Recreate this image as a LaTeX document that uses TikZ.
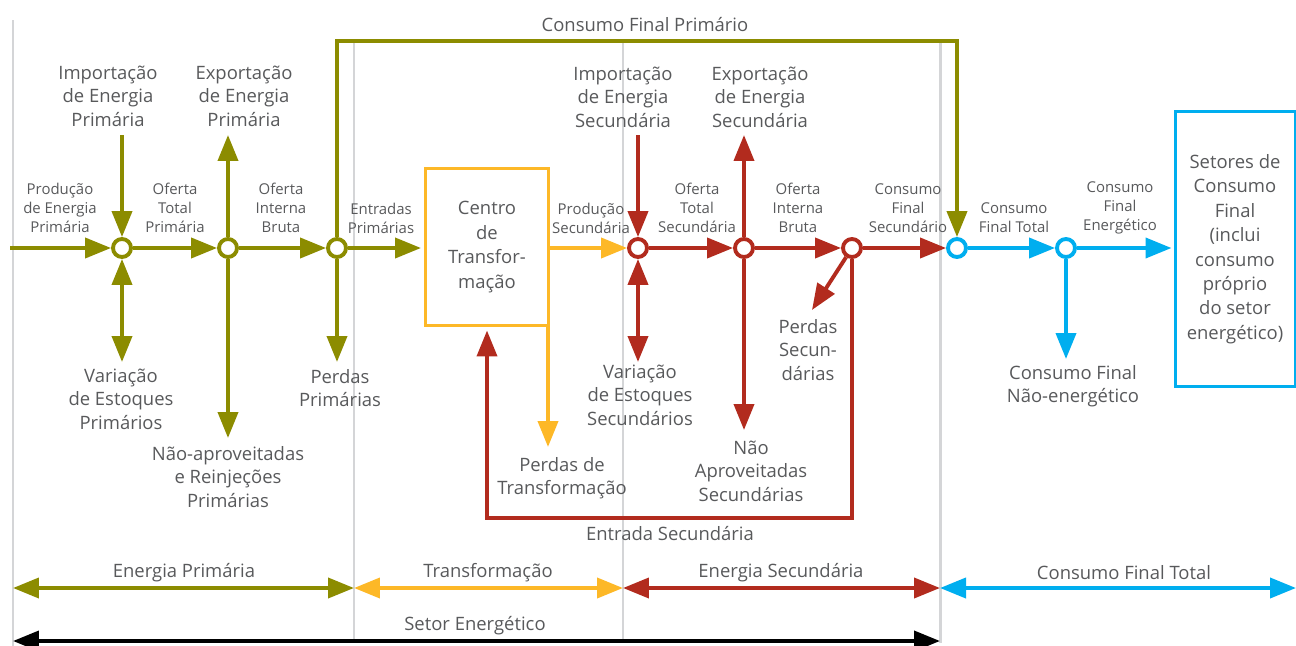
\documentclass[tikz,border=0pt]{standalone}
\usepackage{fontspec}
\setmainfont{Open Sans}
\usepackage{xcolor}
\usepackage{tikz}
\usetikzlibrary{arrows.meta}

\definecolor{primcol}{HTML}{8C8C00}
\definecolor{transcol}{HTML}{FDB827}
\definecolor{seccol}{HTML}{B22B1E}
\definecolor{finalcol}{HTML}{00AEEF}
\definecolor{txtcol}{HTML}{58595B}
\definecolor{sepcol}{HTML}{D4D5D7}

\begin{document}
\begin{tikzpicture}[
    x=0.02cm, y=-0.02cm,
    flow/.style={line width=2.2pt, -{Triangle[length=0.52cm, width=0.4cm]}},
    both/.style={line width=2.2pt, {Triangle[length=0.52cm, width=0.4cm]}-{Triangle[length=0.52cm, width=0.4cm]}},
    junc/.style={circle, draw, fill=white, line width=2.2pt, minimum size=0.36cm, inner sep=0pt},
    lbl/.style={font=\fontsize{10.5}{13.4}\selectfont, text=txtcol, align=center, inner sep=0pt},
    small/.style={font=\fontsize{8.5}{10.8}\selectfont, text=txtcol, align=center, inner sep=0pt},
    frame/.style={rectangle, line width=1.7pt, lbl, font=\fontsize{10.5}{13.9}\selectfont},
    sep/.style={draw=sepcol, line width=1.7pt},
]
\useasboundingbox (0,0) rectangle (1296,646);

% sector separators
\draw[sep] (13,20) -- (13,646);
\draw[sep] (354,40) -- (354,643);
\draw[sep] (623,40) -- (623,643);
\draw[sep] (940,40) -- (940,643);

% primary energy
\node[junc, draw=primcol] (p1) at (122,248) {};
\node[junc, draw=primcol] (p2) at (228,248) {};
\node[junc, draw=primcol] (p3) at (337,248) {};
\coordinate (pstart) at (10,248);
\coordinate (impP) at (122,135);
\coordinate (varP) at (122,362);
\coordinate (expP) at (228,135);
\coordinate (naoP) at (228,438);
\coordinate (perdP) at (337,362);

\node[lbl] (impPtxt) at (108,96) {Importação\\de Energia\\Primária};
\node[lbl] (expPtxt) at (244,96) {Exportação\\de Energia\\Primária};
\node[lbl] (varPtxt) at (121,399) {Variação\\de Estoques\\Primários};
\node[lbl] (naoPtxt) at (228,477) {Não-aproveitadas\\e Reinjeções\\Primárias};
\node[lbl] (perdPtxt) at (340,388) {Perdas\\Primárias};
\node[lbl] (cfpTxt) at (645,25) {Consumo Final Primário};
\node[small] (prodP) at (60,208) {Produção\\de Energia\\Primária};
\node[small] (otP) at (175,208) {Oferta\\Total\\Primária};
\node[small] (oibP) at (281,208) {Oferta\\Interna\\Bruta};
\node[small] (entP) at (381,218) {Entradas\\Primárias};

% transformation
\node[frame, draw=transcol, minimum width=2.46cm, minimum height=3.16cm] (centro) at (487,247)
    {Centro\\de\\Transfor-\\mação};
\coordinate (perdT) at (548,447);
\node[small] (prodS) at (591,218) {Produção\\Secundária};
\node[lbl] (perdTtxt) at (562,478) {Perdas de\\Transformação};

% secondary energy
\node[junc, draw=seccol] (s1) at (638,248) {};
\node[junc, draw=seccol] (s2) at (744,248) {};
\node[junc, draw=seccol] (s3) at (852,248) {};
\coordinate (impS) at (638,135);
\coordinate (varS) at (638,362);
\coordinate (expS) at (744,135);
\coordinate (naoS) at (744,430);
\coordinate (perdS) at (812,310);

\node[lbl] (impStxt) at (623,97) {Importação\\de Energia\\Secundária};
\node[lbl] (expStxt) at (760,97) {Exportação\\de Energia\\Secundária};
\node[lbl] (varStxt) at (640,395) {Variação\\de Estoques\\Secundários};
\node[lbl] (naoStxt) at (751,471) {Não\\Aproveitadas\\Secundárias};
\node[lbl] (perdStxt) at (808,350) {Perdas\\Secun-\\dárias};
\node[lbl] (entStxt) at (670,534) {Entrada Secundária};
\node[small] (otS) at (697,208) {Oferta\\Total\\Secundária};
\node[small] (oibS) at (798,208) {Oferta\\Interna\\Bruta};
\node[small] (cfsS) at (908,208) {Consumo\\Final\\Secundário};

% final consumption
\node[junc, draw=finalcol] (f1) at (957,248) {};
\node[junc, draw=finalcol] (f2) at (1066,248) {};
\coordinate (naoE) at (1066,359);
\node[frame, draw=finalcol, minimum width=2.4cm, minimum height=5.5cm] (setores) at (1235,249)
    {Setores de\\Consumo\\Final\\(inclui\\consumo\\próprio\\do setor\\energético)};
\node[small] (cftTxt) at (1014,218) {Consumo\\Final Total};
\node[small] (cfeTxt) at (1120,208) {Consumo\\Final\\Energético};
\node[lbl] (cfnTxt) at (1073,386) {Consumo Final\\Não-energético};

% primary flows
\draw[flow, primcol] (pstart) -- (p1);
\draw[flow, primcol] (p1) -- (p2);
\draw[flow, primcol] (p2) -- (p3);
\draw[flow, primcol, shorten >=0.06cm] (p3) -- (p3 -| centro.west);
\draw[flow, primcol] (impP) -- (p1);
\draw[both, primcol] (p1) -- (varP);
\draw[flow, primcol] (p2) -- (expP);
\draw[flow, primcol] (p2) -- (naoP);
\draw[flow, primcol] (p3) -- (perdP);
\draw[flow, primcol] (p3) -- (p3 |- 0,41) -| (f1);

% transformation flows
\draw[flow, transcol] (centro.east |- s1) -- (s1);
\draw[flow, transcol] (centro.south -| perdT) -- (perdT);

% secondary flows
\draw[flow, seccol] (impS) -- (s1);
\draw[both, seccol] (s1) -- (varS);
\draw[flow, seccol] (s1) -- (s2);
\draw[flow, seccol] (s2) -- (expS);
\draw[flow, seccol] (s2) -- (naoS);
\draw[flow, seccol] (s2) -- (s3);
\draw[flow, seccol] (s3) -- (perdS);
\draw[flow, seccol] (s3) -- (f1);
\draw[flow, seccol, shorten >=0.06cm] (s3) -- (s3 |- 0,518) -| (centro.south);

% final flows
\draw[flow, finalcol] (f1) -- (f2);
\draw[flow, finalcol] (f2) -- (naoE);
\draw[flow, finalcol, shorten >=0.04cm] (f2) -- (f2 -| setores.west);

% sector bars
\coordinate (b0) at (13,588);
\coordinate (b1) at (354,588);
\coordinate (b2) at (623,588);
\coordinate (b3) at (940,588);
\coordinate (b4) at (1296,588);
\coordinate (e0) at (13,641);
\coordinate (e1) at (940,641);
\node[lbl] (barP) at (184,573) {Energia Primária};
\node[lbl] (barT) at (488,573) {Transformação};
\node[lbl] (barS) at (781,573) {Energia Secundária};
\node[lbl] (barF) at (1124,573) {Consumo Final Total};
\node[lbl] (barE) at (475,626) {Setor Energético};
\draw[both, primcol] (b0) -- (b1);
\draw[both, transcol] (b1) -- (b2);
\draw[both, seccol] (b2) -- (b3);
\draw[both, finalcol] (b3) -- (b4);
\draw[both, black] (e0) -- (e1);

\end{tikzpicture}
\end{document}
